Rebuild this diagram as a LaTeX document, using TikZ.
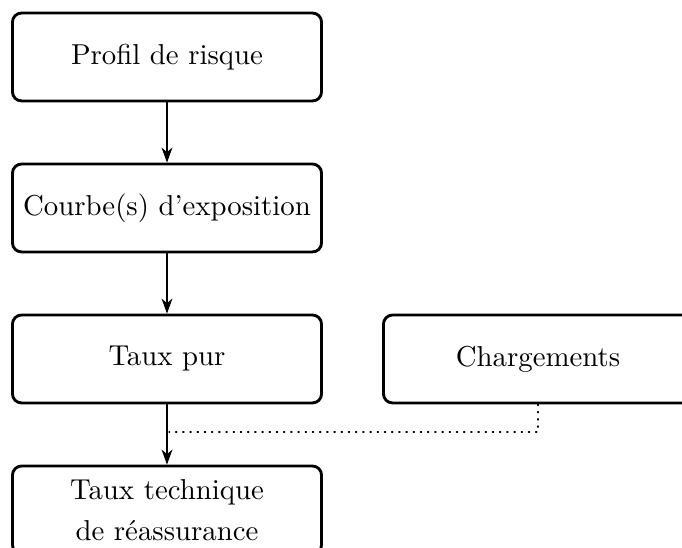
\documentclass[tikz,border=0pt]{standalone}
\usepackage{tikz}
\usetikzlibrary{arrows.meta}

\begin{document}
\begin{tikzpicture}[x=0.3333pt, y=-0.3333pt, line cap=round, line join=round,
  boite/.style={draw, line width=0.95pt, rounded corners=3pt, minimum width=103pt,
    minimum height=29.3pt, inner sep=2.5pt, align=center,
    font=\fontsize{9.6}{13.6}\selectfont},
  fleche/.style={semithick, -{Stealth[length=5pt, width=3.6pt, inset=1.5pt]}}]

\useasboundingbox (0,0) rectangle (682,548);

\def\xg{167}
\def\xd{538}
\def\pas{151}

% colonne de gauche
\node[boite] (profil) at (\xg,57) {Profil de risque};
\node[boite] (courbe) at (\xg,57+\pas) {Courbe(s) d'exposition};
\node[boite] (pur) at (\xg,57+2*\pas) {Taux pur};
\node[boite] (technique) at (\xg,57+3*\pas) {Taux technique\\de r\'eassurance};

% chargements
\node[boite] (charg) at (\xd,57+2*\pas) {Chargements};

\draw[fleche] (profil) -- (courbe);
\draw[fleche] (courbe) -- (pur);
\draw[fleche] (pur) -- (technique);

\coordinate (jonction) at (\xg+2,432);
\draw[dotted] (charg.south) |- (jonction);

\end{tikzpicture}
\end{document}
